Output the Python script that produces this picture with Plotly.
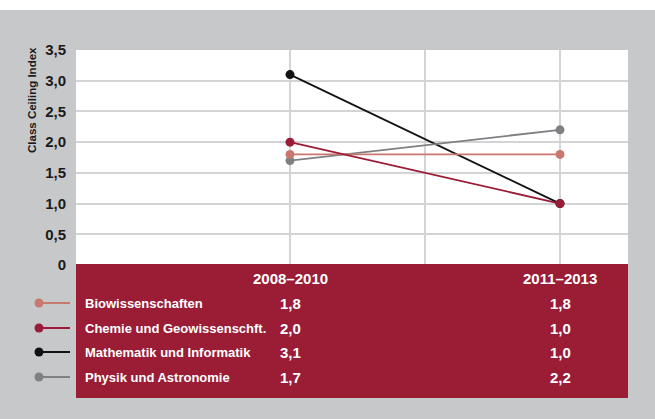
import plotly.graph_objects as go

# Periods and Class Ceiling Index per field
periods = ["2008–2010", "2011–2013"]
fields = [
    "Biowissenschaften",
    "Chemie und Geowissenschft.",
    "Mathematik und Informatik",
    "Physik und Astronomie",
]
values_2008 = [1.8, 2.0, 3.1, 1.7]
values_2011 = [1.8, 1.0, 1.0, 2.2]
colors = ["#c9786f", "#9b1c36", "#121214", "#7f8083"]

# order in which the lines are stacked (last one on top)
draw_order = [2, 3, 0, 1]

y_ticks = [0, 0.5, 1.0, 1.5, 2.0, 2.5, 3.0, 3.5]
y_ticktext = ["0", "0,5", "1,0", "1,5", "2,0", "2,5", "3,0", "3,5"]

W, H = 655, 419
ML, MR, MT, MB = 76, 27, 50, 154
PW, PH = W - ML - MR, H - MT - MB

BG = "#c7c8ca"
PANEL = "#9a1c35"
GRID = "#d3d4d5"
FONT = "Liberation Sans, Arial, sans-serif"


def px(xp):
    return (xp - ML) / PW


def py(yp):
    return (H - MB - yp) / PH


def fmt(v):
    return f"{v:.1f}".replace(".", ",")


x_pos = [0, 2]

fig = go.Figure()
for i in draw_order:
    c = colors[i]
    fig.add_trace(go.Scatter(
        x=x_pos, y=[values_2008[i], values_2011[i]], mode="lines+markers",
        name=fields[i],
        line=dict(color=c, width=1.8),
        marker=dict(color=c, size=9),
        showlegend=False, hoverinfo="skip",
    ))

# invisible trace carrying the horizontal grid on an overlay axis
fig.add_trace(go.Scatter(x=[0], y=[0], yaxis="y2", mode="markers",
                         marker=dict(opacity=0), showlegend=False, hoverinfo="skip"))

shapes = []
annotations = []

# white strip along the top edge
shapes.append(dict(type="rect", xref="paper", yref="paper",
                   x0=px(0), x1=px(W), y0=py(10), y1=py(-5),
                   fillcolor="white", line=dict(width=0), layer="below"))

# table panel under the plot
shapes.append(dict(type="rect", xref="paper", yref="paper",
                   x0=0, x1=1, y0=py(398), y1=py(264),
                   fillcolor=PANEL, line=dict(width=0), layer="above"))

row_y = [303, 328, 352, 377]

for period, xv in zip(periods, x_pos):
    annotations.append(dict(text=f"<b>{period}</b>", x=xv, xref="x",
                            y=py(278), yref="paper", xanchor="center", yanchor="middle",
                            showarrow=False, font=dict(family=FONT, size=15, color="white")))

for i, (name, c) in enumerate(zip(fields, colors)):
    yp = py(row_y[i])
    shapes.append(dict(type="line", xref="paper", yref="paper",
                       x0=px(38), x1=px(70), y0=yp, y1=yp,
                       line=dict(color=c, width=2), layer="above"))
    shapes.append(dict(type="circle", xref="paper", yref="paper",
                       xsizemode="pixel", ysizemode="pixel",
                       xanchor=px(39), yanchor=yp,
                       x0=-4.5, x1=4.5, y0=-4.5, y1=4.5,
                       fillcolor=c, line=dict(width=0), layer="above"))
    annotations.append(dict(text=f"<b>{name}</b>", x=px(83), xref="paper",
                            y=yp, yref="paper", xanchor="left", yanchor="middle",
                            showarrow=False, font=dict(family=FONT, size=13, color="white")))
    for xv, v in zip(x_pos, (values_2008[i], values_2011[i])):
        annotations.append(dict(text=f"<b>{fmt(v)}</b>", x=xv, xref="x",
                                y=yp, yref="paper", xanchor="center", yanchor="middle",
                                showarrow=False, font=dict(family=FONT, size=15, color="white")))

# rotated axis title
annotations.append(dict(text="<b>Class Ceiling Index</b>", x=px(32), xref="paper",
                        y=py(100), yref="paper", textangle=-90,
                        xanchor="center", yanchor="middle", showarrow=False,
                        font=dict(family=FONT, size=11.5, color="#1a1a1a")))

fig.update_layout(
    width=W, height=H,
    margin=dict(l=ML, r=MR, t=MT, b=MB),
    paper_bgcolor=BG, plot_bgcolor="white",
    shapes=shapes, annotations=annotations,
    xaxis=dict(range=[-214 / 135, 2 + 68 / 135], tickvals=[0, 1, 2],
               showticklabels=False, showgrid=True, gridcolor=GRID, gridwidth=2,
               zeroline=False, showline=False, fixedrange=True),
    yaxis=dict(range=[0, 3.5], tickvals=y_ticks, ticktext=y_ticktext,
               showgrid=False, zeroline=False, showline=False,
               ticks="", ticklabelstandoff=9,
               tickfont=dict(family=FONT, size=15, color="#1a1a1a", weight="bold"),
               fixedrange=True),
    yaxis2=dict(range=[0, 3.5], overlaying="y", tickvals=[0.5, 1.0, 1.5, 2.0, 2.5, 3.0],
                showticklabels=False, showgrid=True, gridcolor=GRID, gridwidth=2,
                zeroline=False, showline=False, layer="below traces", fixedrange=True),
)

fig.write_html("out.html")
